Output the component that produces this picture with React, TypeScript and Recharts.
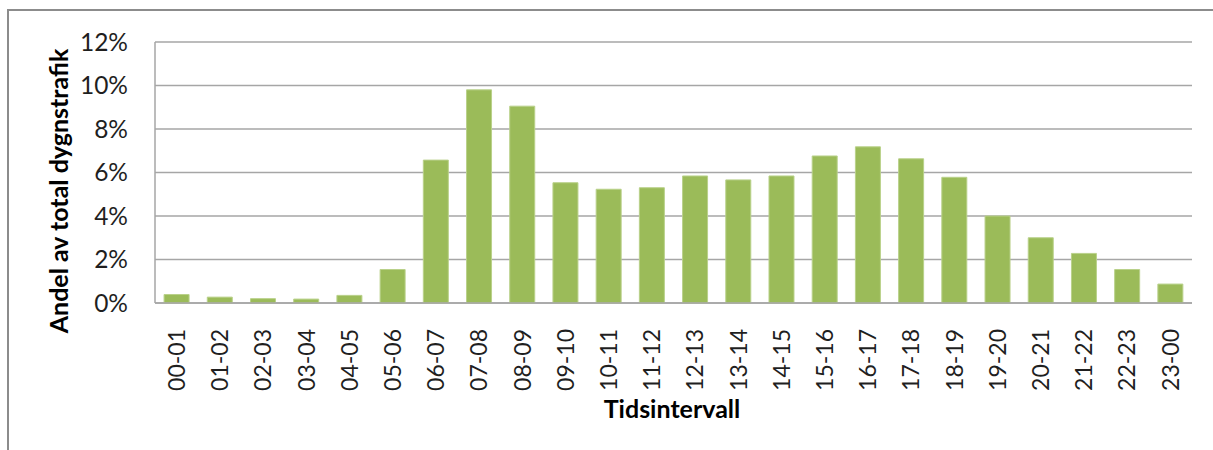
import React from 'react';
import { BarChart, Bar, XAxis, YAxis, CartesianGrid } from 'recharts';

const intervals = [
  '00-01', '01-02', '02-03', '03-04', '04-05', '05-06', '06-07', '07-08',
  '08-09', '09-10', '10-11', '11-12', '12-13', '13-14', '14-15', '15-16',
  '16-17', '17-18', '18-19', '19-20', '20-21', '21-22', '22-23', '23-00',
];

const shares = [
  0.39, 0.27, 0.2, 0.18, 0.35, 1.54, 6.57, 9.8,
  9.05, 5.53, 5.23, 5.3, 5.84, 5.66, 5.84, 6.76,
  7.18, 6.63, 5.78, 4.0, 3.0, 2.28, 1.54, 0.87,
];

const yTicks = [0, 2, 4, 6, 8, 10, 12];

const FONT = 'Lato, "Liberation Sans", sans-serif';
const GRID = '#a6a6a6';

interface Row {
  interval: string;
  share: number;
}

const data: Row[] = intervals.map((interval, i) => ({ interval, share: shares[i] }));

const XTick = ({ x, y, payload }: any) => (
  <g transform={`translate(${x},${y})`}>
    <text
      x={0}
      y={0}
      transform="rotate(-90)"
      textAnchor="end"
      dy="0.36em"
      dx={-18}
      fontFamily={FONT}
      fontSize={23}
      fill="#1f1f1f"
    >
      {payload.value}
    </text>
  </g>
);

const App: React.FC = () => {
  return (
    <div style={{ position: 'absolute', left: 0, top: 0, width: 1213, height: 450, background: '#fff' }}>
      <div
        style={{
          position: 'absolute',
          left: 7,
          top: 9,
          right: 0,
          bottom: 0,
          borderTop: '2px solid #8c8c8c',
          borderLeft: '2px solid #8c8c8c',
        }}
      />
      <BarChart
        width={1213}
        height={450}
        data={data}
        margin={{ top: 42, right: 21, bottom: 47, left: 95 }}
        barCategoryGap="21%"
        style={{ position: 'absolute', left: 0, top: 0 }}
      >
        <CartesianGrid vertical={false} stroke={GRID} strokeWidth={1.5} />
        <XAxis
          dataKey="interval"
          height={100}
          interval={0}
          tickLine={false}
          axisLine={{ stroke: GRID, strokeWidth: 1.5 }}
          tick={<XTick />}
          label={{
            value: 'Tidsintervall',
            content: () => (
              <text x={672} y={418} textAnchor="middle" fontFamily={FONT} fontSize={25} fontWeight="bold" fill="#000">
                Tidsintervall
              </text>
            ),
          }}
        />
        <YAxis
          width={60}
          domain={[0, 12]}
          ticks={yTicks}
          tickLine={false}
          axisLine={{ stroke: GRID, strokeWidth: 1.5 }}
          tickFormatter={(v: number) => `${v}%`}
          tick={{ fontFamily: FONT, fontSize: 24.5, fill: '#1f1f1f' }}
          tickSize={0}
          tickMargin={27}
          label={{
            value: 'Andel av total dygnstrafik',
            content: () => (
              <text
                x={0}
                y={0}
                transform="translate(68,191) rotate(-90)"
                textAnchor="middle"
                fontFamily={FONT}
                fontSize={25}
                fontWeight="bold"
                fill="#000"
              >
                Andel av total dygnstrafik
              </text>
            ),
          }}
        />
        <Bar dataKey="share" fill="#9bbb59" stroke="#b9d18a" strokeWidth={1} isAnimationActive={false} />
      </BarChart>
    </div>
  );
};

export default App;
